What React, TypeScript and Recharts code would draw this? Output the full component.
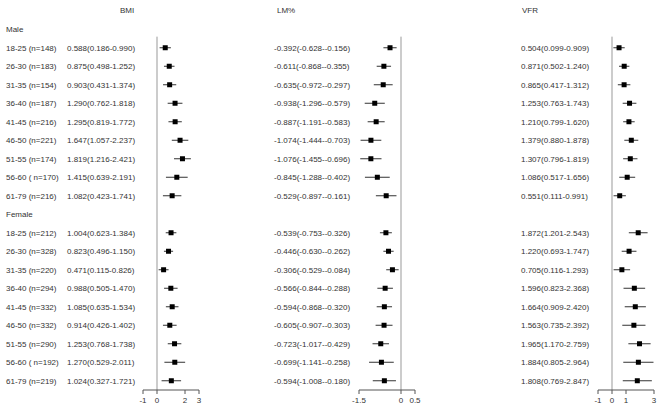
import React from "react";
import {
  ScatterChart,
  Scatter,
  XAxis,
  YAxis,
  ErrorBar,
  ReferenceLine,
} from "recharts";

const FONT = "'Liberation Sans', Arial, sans-serif";
const TEXT = "#333";

const maleLabels = [
  "18-25 (n=148)", "26-30 (n=183)", "31-35 (n=154)", "36-40 (n=187)", "41-45 (n=216)",
  "46-50 (n=221)", "51-55 (n=174)", "56-60 ( n=170)", "61-79 (n=216)",
];
const femaleLabels = [
  "18-25 (n=212)", "26-30 (n=328)", "31-35 (n=220)", "36-40 (n=294)", "41-45 (n=332)",
  "46-50 (n=332)", "51-55 (n=290)", "56-60 ( n=192)", "61-79 (n=219)",
];

// [estimate, lower, upper]
const bmiMale = [
  [0.588, 0.186, 0.99], [0.875, 0.498, 1.252], [0.903, 0.431, 1.374],
  [1.29, 0.762, 1.818], [1.295, 0.819, 1.772], [1.647, 1.057, 2.237],
  [1.819, 1.216, 2.421], [1.415, 0.639, 2.191], [1.082, 0.423, 1.741],
];
const bmiFemale = [
  [1.004, 0.623, 1.384], [0.823, 0.496, 1.15], [0.471, 0.115, 0.826],
  [0.988, 0.505, 1.47], [1.085, 0.635, 1.534], [0.914, 0.426, 1.402],
  [1.253, 0.768, 1.738], [1.27, 0.529, 2.011], [1.024, 0.327, 1.721],
];
const lmMale = [
  [-0.392, -0.628, -0.156], [-0.611, -0.868, -0.355], [-0.635, -0.972, -0.297],
  [-0.938, -1.296, -0.579], [-0.887, -1.191, -0.583], [-1.074, -1.444, -0.703],
  [-1.076, -1.455, -0.696], [-0.845, -1.288, -0.402], [-0.529, -0.897, -0.161],
];
const lmFemale = [
  [-0.539, -0.753, -0.326], [-0.446, -0.63, -0.262], [-0.306, -0.529, -0.084],
  [-0.566, -0.844, -0.288], [-0.594, -0.868, -0.32], [-0.605, -0.907, -0.303],
  [-0.723, -1.017, -0.429], [-0.699, -1.141, -0.258], [-0.594, -1.008, -0.18],
];
const vfrMale = [
  [0.504, 0.099, 0.909], [0.871, 0.502, 1.24], [0.865, 0.417, 1.312],
  [1.253, 0.763, 1.743], [1.21, 0.799, 1.62], [1.379, 0.88, 1.878],
  [1.307, 0.796, 1.819], [1.086, 0.517, 1.656], [0.551, 0.111, 0.991],
];
const vfrFemale = [
  [1.872, 1.201, 2.543], [1.22, 0.693, 1.747], [0.705, 0.116, 1.293],
  [1.596, 0.823, 2.368], [1.664, 0.909, 2.42], [1.563, 0.735, 2.392],
  [1.965, 1.17, 2.759], [1.884, 0.805, 2.964], [1.808, 0.769, 2.847],
];

const bmiTicks = [-1, 0, 2, 3];
const lmTicks = [-1.5, 0, 0.5];
const vfrTicks = [-1, 0, 1, 3];

// row 0 = "Male", rows 1-9 male groups, row 10 = "Female", rows 11-19 female groups
const ROWS = Array.from({ length: 20 }, (_, i) => i);

const fmt = (v: number) => v.toFixed(3);

function buildRows(male: number[][], female: number[][]) {
  const out: { row: number; est: number; err: number[]; text: string }[] = [];
  const add = (arr: number[][], offset: number) =>
    arr.forEach(([e, lo, hi], i) =>
      out.push({
        row: offset + i,
        est: e,
        err: [e - lo, hi - e],
        text: `${fmt(e)}(${fmt(lo)}-${fmt(hi)})`,
      })
    );
  add(male, 1);
  add(female, 11);
  return out;
}

function labelFor(row: number) {
  if (row === 0) return "Male";
  if (row === 10) return "Female";
  return row < 10 ? maleLabels[row - 1] : femaleLabels[row - 11];
}

const Square = (p: any) => (
  <rect x={p.cx - 2.5} y={p.cy - 2.5} width={5} height={5} fill="#000" />
);

function Panel({
  left, width, yWidth, textX, domain, ticks, data, withLabels,
}: {
  left: number; width: number; yWidth: number; textX: number;
  domain: [number, number]; ticks: number[];
  data: ReturnType<typeof buildRows>; withLabels?: boolean;
}) {
  const byRow: Record<number, string> = {};
  data.forEach(d => (byRow[d.row] = d.text));
  const tick = (p: any) => {
    const r = p.payload.value;
    return (
      <g>
        {withLabels && (
          <text x={6} y={p.y} dy="0.35em" fontSize={8} fill={TEXT} fontFamily={FONT}>
            {labelFor(r)}
          </text>
        )}
        {byRow[r] && (
          <text x={textX} y={p.y} dy="0.35em" fontSize={8} fill={TEXT} fontFamily={FONT}>
            {byRow[r]}
          </text>
        )}
      </g>
    );
  };
  return (
    <div style={{ position: "absolute", left, top: 0 }}>
      <ScatterChart
        width={width}
        height={412}
        margin={{ top: 20, right: width - yWidth - 56, bottom: 0, left: 0 }}
      >
        <XAxis
          type="number"
          dataKey="est"
          domain={domain}
          ticks={ticks}
          interval={0}
          height={22}
          tickSize={4}
          tickMargin={3}
          axisLine={{ stroke: "#555" }}
          tickLine={{ stroke: "#555" }}
          tick={{ fontSize: 8, fill: TEXT, fontFamily: FONT }}
        />
        <YAxis
          type="number"
          dataKey="row"
          domain={[-0.5, 19.5]}
          reversed
          ticks={ROWS}
          interval={0}
          width={yWidth}
          axisLine={false}
          tickLine={false}
          tick={tick}
        />
        <ReferenceLine
          segment={[{ x: 0, y: 0.4 }, { x: 0, y: 19.5 }]}
          stroke="#999"
          strokeWidth={1}
          ifOverflow="visible"
        />
        <Scatter data={data} shape={Square} isAnimationActive={false}>
          <ErrorBar dataKey="err" direction="x" width={0} stroke="#333" strokeWidth={1} />
        </Scatter>
      </ScatterChart>
    </div>
  );
}

const header = (text: string, left: number) => (
  <div
    style={{
      position: "absolute", left, top: 6, fontSize: 8, color: TEXT,
      fontFamily: FONT, lineHeight: "10px",
    }}
  >
    {text}
  </div>
);

export default function App() {
  return (
    <div
      style={{
        position: "absolute", left: 0, top: 0, width: 661, height: 412,
        background: "#fff", overflow: "hidden",
      }}
    >
      {header("BMI", 120)}
      {header("LM%", 277)}
      {header("VFR", 522)}
      <Panel
        left={0} width={210} yWidth={143} textX={67}
        domain={[-1, 3]} ticks={bmiTicks}
        data={buildRows(bmiMale, bmiFemale)} withLabels
      />
      <Panel
        left={270} width={156} yWidth={89} textX={4}
        domain={[-1.5, 0.5]} ticks={lmTicks}
        data={buildRows(lmMale, lmFemale)}
      />
      <Panel
        left={515} width={146} yWidth={83} textX={6}
        domain={[-1, 3]} ticks={vfrTicks}
        data={buildRows(vfrMale, vfrFemale)}
      />
    </div>
  );
}
